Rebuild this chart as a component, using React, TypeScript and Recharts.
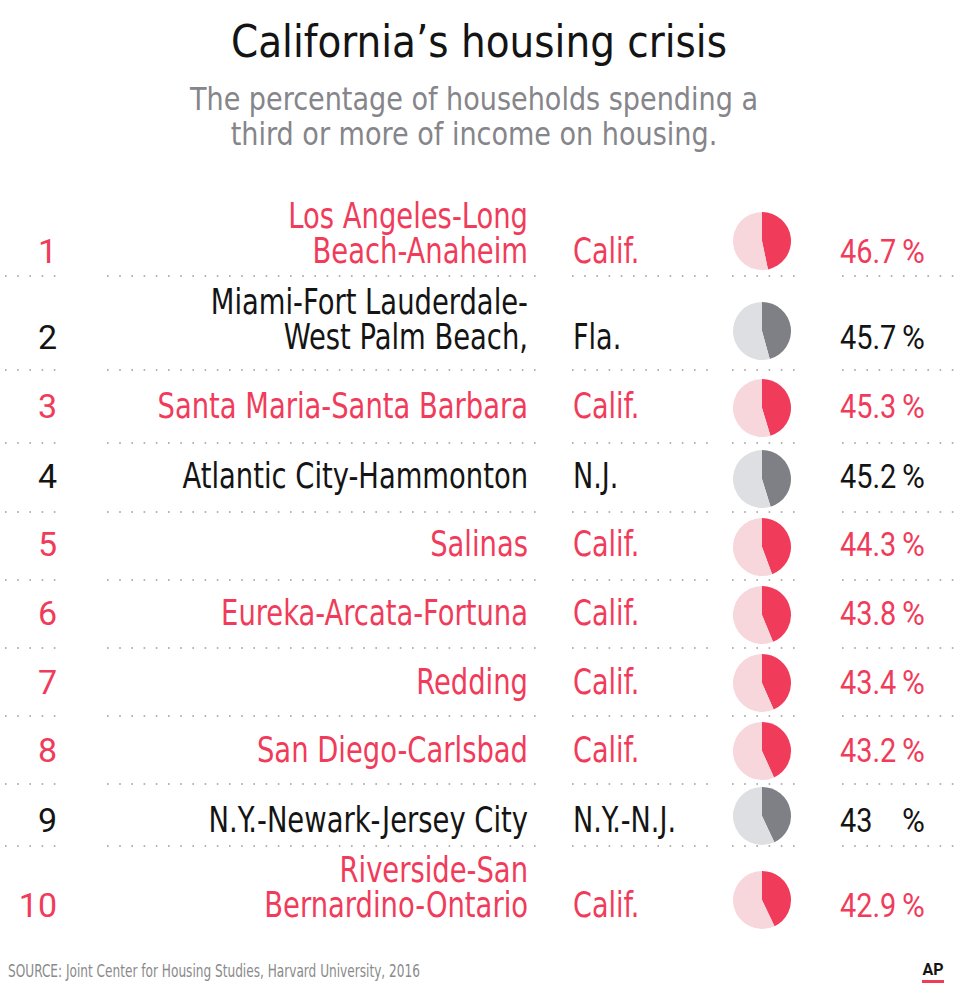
import React from 'react';
import { PieChart, Pie, Cell } from 'recharts';

// ---- data ----
const TITLE = 'California\u2019s housing crisis';
const SUBTITLE_LINES = ['The percentage of households spending a', 'third or more of income on housing.'];
const SOURCE = 'SOURCE: Joint Center for Housing Studies, Harvard University, 2016';

const RANKS = ['1', '2', '3', '4', '5', '6', '7', '8', '9', '10'];
const METROS = [
  ['Los Angeles-Long', 'Beach-Anaheim'],
  ['Miami-Fort Lauderdale-', 'West Palm Beach,'],
  ['Santa Maria-Santa Barbara'],
  ['Atlantic City-Hammonton'],
  ['Salinas'],
  ['Eureka-Arcata-Fortuna'],
  ['Redding'],
  ['San Diego-Carlsbad'],
  ['N.Y.-Newark-Jersey City'],
  ['Riverside-San', 'Bernardino-Ontario'],
];
const STATES = ['Calif.', 'Fla.', 'Calif.', 'N.J.', 'Calif.', 'Calif.', 'Calif.', 'Calif.', 'N.Y.-N.J.', 'Calif.'];
const SHARES = [46.7, 45.7, 45.3, 45.2, 44.3, 43.8, 43.4, 43.2, 43, 42.9];
const SHARE_LABELS = ['46.7', '45.7', '45.3', '45.2', '44.3', '43.8', '43.4', '43.2', '43', '42.9'];

// ---- layout ----
const ROW_BASELINE = [263, 349, 418, 488, 556, 625, 694, 762, 832, 917];
const PIE_CENTER_Y = [241, 331, 408, 479, 547, 615, 683, 751, 816, 900];
const DIVIDER_Y = [276, 370, 443, 512, 580, 648, 716, 784, 846];
const DIVIDER_SEGMENTS = [[5, 62], [107, 537], [572, 712], [732, 798], [842, 958]];
const LINE_GAP = 35;

const RED = '#f03c5a';
const PINK = '#f7d6dc';
const DARK_GRAY = '#7f8085';
const LIGHT_GRAY = '#dedfe2';
const BLACK = '#141414';

const CONDENSED = "'DejaVu Sans Condensed', 'Liberation Sans Narrow', sans-serif";
const REGULAR = "Roboto, 'Liberation Sans', sans-serif";

const PIE_X = 762;
const PIE_R = 29;

type STextProps = {
  x: number;
  y: number;
  sx?: number;
  anchor?: 'start' | 'middle' | 'end';
  family: string;
  size: number;
  fill?: string;
  weight?: number;
  children: React.ReactNode;
};

function SText({ x, y, sx = 1, anchor = 'start', family, size, fill, weight, children }: STextProps) {
  return (
    <text
      transform={`translate(${x},${y}) scale(${sx},1)`}
      x={0}
      y={0}
      textAnchor={anchor}
      fontFamily={family}
      fontSize={size}
      fill={fill}
      fontWeight={weight}
    >
      {children}
    </text>
  );
}

function RowPie({ value, highlight, cy }: { value: number; highlight: boolean; cy: number }) {
  const data = [
    { name: 'share', value },
    { name: 'rest', value: 100 - value },
  ];
  const colors = highlight ? [RED, PINK] : [DARK_GRAY, LIGHT_GRAY];
  const size = PIE_R * 2 + 4;
  return (
    <div style={{ position: 'absolute', left: PIE_X - size / 2, top: cy - size / 2, width: size, height: size }}>
      <PieChart width={size} height={size} margin={{ top: 0, right: 0, bottom: 0, left: 0 }}>
        <Pie
          data={data}
          dataKey="value"
          cx="50%"
          cy="50%"
          outerRadius={PIE_R}
          innerRadius={0}
          startAngle={90}
          endAngle={-270}
          stroke="none"
          isAnimationActive={false}
        >
          {data.map((d, i) => (
            <Cell key={d.name} fill={colors[i]} />
          ))}
        </Pie>
      </PieChart>
    </div>
  );
}

export default function App() {
  return (
    <div style={{ position: 'absolute', left: 0, top: 0, width: 960, height: 1000, background: '#fff', overflow: 'hidden' }}>
      <svg width={960} height={1000} style={{ position: 'absolute', left: 0, top: 0 }}>
        <SText x={479} y={57} sx={0.985} anchor="middle" family={CONDENSED} size={44} fill={BLACK}>
          {TITLE}
        </SText>
        {SUBTITLE_LINES.map((l, i) => (
          <SText key={l} x={474} y={110 + i * 35} sx={0.94} anchor="middle" family={CONDENSED} size={32} fill="#85858a">
            {l}
          </SText>
        ))}

        {DIVIDER_Y.map((y) =>
          DIVIDER_SEGMENTS.map(([a, b], j) => (
            <line
              key={`${y}-${j}`}
              x1={a}
              x2={b}
              y1={y}
              y2={y}
              stroke="#9a9a9a"
              strokeWidth={1.6}
              strokeDasharray="1.6 10.6"
            />
          ))
        )}

        {RANKS.map((r, i) => {
          const color = STATES[i] === 'Calif.' ? RED : BLACK;
          const base = ROW_BASELINE[i];
          const lines = METROS[i];
          return (
            <g key={r} fill={color}>
              <SText x={57} y={base} anchor="end" family={REGULAR} size={34}>
                {r}
              </SText>
              {lines.map((ln, k) => (
                <SText
                  key={ln}
                  x={528}
                  y={base - (lines.length - 1 - k) * LINE_GAP}
                  sx={0.87}
                  anchor="end"
                  family={CONDENSED}
                  size={35}
                >
                  {ln}
                </SText>
              ))}
              <SText x={573} y={base} sx={0.86} family={CONDENSED} size={35}>
                {STATES[i]}
              </SText>
              <SText x={840} y={base} sx={0.85} family={REGULAR} size={34}>
                {SHARE_LABELS[i]}
              </SText>
              <SText x={925} y={base} sx={0.92} anchor="end" family={REGULAR} size={34}>
                %
              </SText>
            </g>
          );
        })}

        <SText x={8} y={977} sx={0.75} family={CONDENSED} size={18} fill="#8a8a8a">
          {SOURCE}
        </SText>
        <SText x={933} y={975} anchor="middle" family={REGULAR} weight={700} size={16} fill={BLACK}>
          AP
        </SText>
        <rect x={922} y={980} width={22} height={3} fill={RED} />
      </svg>

      {SHARES.map((v, i) => (
        <RowPie key={RANKS[i]} value={v} highlight={STATES[i] === 'Calif.'} cy={PIE_CENTER_Y[i]} />
      ))}
    </div>
  );
}
